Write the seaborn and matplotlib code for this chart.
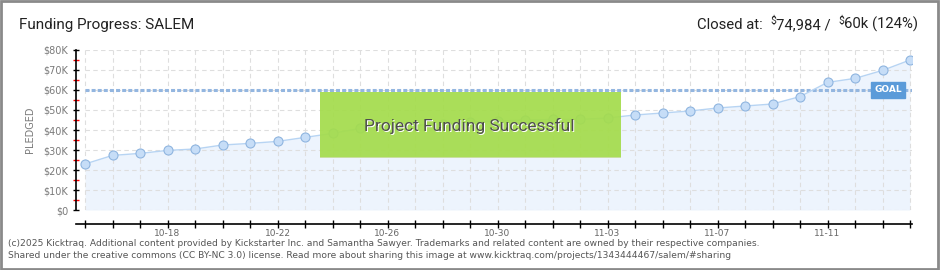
import matplotlib
matplotlib.use("Agg")
import matplotlib.pyplot as plt
import seaborn as sns
import pandas as pd
from matplotlib.patches import Rectangle
from matplotlib.ticker import FuncFormatter, MultipleLocator

# ---------------- data ----------------
dates = ["10-15", "10-16", "10-17", "10-18", "10-19", "10-20", "10-21", "10-22",
         "10-23", "10-24", "10-25", "10-26", "10-27", "10-28", "10-29", "10-30",
         "10-31", "11-01", "11-02", "11-03", "11-04", "11-05", "11-06", "11-07",
         "11-08", "11-09", "11-10", "11-11", "11-12", "11-13", "11-14"]
pledged = [23000, 27300, 28300, 29800, 30500, 32500, 33300, 34300,
           36300, 38300, 40800, 41600, 42400, 43200, 43900, 44500,
           45000, 45300, 45300, 46000, 47500, 48500, 49500, 51000,
           52000, 53000, 56700, 63800, 65800, 69800, 74984]
goal = 60000
tick_dates = ["10-18", "10-22", "10-26", "10-30", "11-03", "11-07", "11-11"]
y_ticks = [0, 10000, 20000, 30000, 40000, 50000, 60000, 70000, 80000]
title = "Funding Progress: SALEM"
closed_pieces = ["Closed at:  ", "$", "74,984 /  ", "$", "60k (124%)"]
banner = "Project Funding Successful"
goal_label = "GOAL"
y_label = "PLEDGED"
footer_lines = [
    "(c)2025 Kicktraq. Additional content provided by Kickstarter Inc. and Samantha Sawyer. "
    "Trademarks and related content are owned by their respective companies.",
    "Shared under the creative commons (CC BY-NC 3.0) license. Read more about sharing this "
    "image at www.kicktraq.com/projects/1343444467/salem/#sharing",
]

df = pd.DataFrame({"day": list(range(len(dates))), "date": dates, "pledged": pledged})

# ---------------- style ----------------
sns.set_theme(style="white")
plt.rcParams["font.family"] = ["DejaVu Sans"]
HEAD = ["Roboto", "DejaVu Sans"]

W, H = 940, 270
fig = plt.figure(figsize=(W / 100, H / 100), dpi=100)
fig.patch.set_facecolor("white")


def fx(px):
    return px / W


def fy(py):
    return 1 - py / H


ax = fig.add_axes([fx(76), fy(210), fx(912) - fx(76), fy(50) - fy(210)])
ax.set_facecolor("white")
n = len(dates)
xmax = (n - 1) + 2 / 27.5
ax.set_xlim(-9 / 27.5, xmax)
ax.set_ylim(0, 80000)

# fill under curve
ax.fill_between(df["day"], df["pledged"], color="#edf4fd", zorder=0.2, linewidth=0)

# grid (dashed)
ax.hlines(y_ticks, 0, xmax, colors="#dedede", linestyles=[(0, (4, 3))],
          linewidth=0.8, zorder=0.5)
ax.vlines(df["day"], 0, 80000, colors="#dedede", linestyles=[(0, (4, 3))],
          linewidth=0.8, zorder=0.5)

# goal line
ax.hlines(goal, 0, xmax, colors="#93b6e0", linestyles=[(0, (1.3, 0.7))],
          linewidth=2.2, zorder=1)

# pledged line
sns.lineplot(data=df, x="day", y="pledged", ax=ax, color="#b7d4f3", linewidth=1,
             marker="o", markersize=6.5, markerfacecolor="#c6ddf7",
             markeredgecolor="#8fb5e0", markeredgewidth=0.8, zorder=3)

ax.set_xlabel("")
ax.set_ylabel("")

# goal label
ax.text(29.2, goal, goal_label, ha="center", va="center", fontsize=6.5, color="white",
        fontweight="bold", zorder=6,
        bbox=dict(boxstyle="square,pad=0.35", facecolor="#5b9bd9", edgecolor="#5b9bd9"))

# spines
for s in ["top", "right"]:
    ax.spines[s].set_visible(False)
ax.spines["left"].set_color("black")
ax.spines["left"].set_linewidth(1.2)
ax.spines["bottom"].set_color("black")
ax.spines["bottom"].set_linewidth(1.2)
ax.spines["bottom"].set_position(("outward", 10))

# ticks
ax.set_yticks(y_ticks)
ax.yaxis.set_major_formatter(FuncFormatter(lambda v, p: f"${int(v / 1000)}K" if v else "$0"))
ax.yaxis.set_minor_locator(MultipleLocator(5000))
ax.tick_params(axis="y", which="major", left=True, direction="inout", length=5, width=1,
               color="black", labelsize=7, labelcolor="#7a7a7a", pad=3)
ax.tick_params(axis="y", which="minor", left=True, direction="inout", length=5, width=1,
               color="red")
ax.set_xticks(df["day"])
ax.set_xticklabels([d if d in tick_dates else "" for d in dates])
ax.tick_params(axis="x", which="major", bottom=True, direction="inout", length=6, width=1,
               color="black", labelsize=6.5, labelcolor="#666666", pad=0.5)

# y label
fig.text(fx(30), fy(130), y_label, rotation=90, ha="center", va="center",
         fontsize=7, color="#7a7a7a")

# title
fig.text(fx(19), fy(29), title, ha="left", va="baseline", fontsize=11, color="#222222",
         family=HEAD)

# right header with superscript dollar signs
renderer = fig.canvas.get_renderer()
texts = []
for piece in closed_pieces:
    small = piece == "$"
    t = fig.text(0, 0, piece, ha="left", va="baseline", fontsize=7.5 if small else 10.7,
                 color="#222222", family=HEAD)
    texts.append((t, small))
widths = [t.get_window_extent(renderer).width for t, _ in texts]
x = 918 - sum(widths)
for (t, small), w in zip(texts, widths):
    t.set_position((fx(x), fy(29 - (5 if small else 0))))
    x += w

# success banner
fig.patches.append(Rectangle((fx(320), fy(157)), fx(621) - fx(320), fy(92) - fy(157),
                             transform=fig.transFigure, facecolor="#a4dc4c", alpha=0.93,
                             edgecolor="none", zorder=5))
fig.patches.append(Rectangle((fx(320), fy(158)), fx(621) - fx(320), fy(157) - fy(158),
                             transform=fig.transFigure, facecolor="#c9dea0",
                             edgecolor="none", zorder=5))
fig.text(fx(469.8), fy(126.8), banner, ha="center", va="center", fontsize=12.5,
         color="white", family=HEAD, zorder=6)
fig.text(fx(469), fy(126), banner, ha="center", va="center", fontsize=12.5,
         color="#4e4e4e", family=HEAD, zorder=7)

# footer
fig.text(fx(8), fy(243), footer_lines[0], ha="left", va="center", fontsize=6.6, color="#555555")
fig.text(fx(8), fy(256), footer_lines[1], ha="left", va="center", fontsize=6.6, color="#555555")

# outer frame
fig.patches.append(Rectangle((0.001, 0.003), 0.997, 0.994, transform=fig.transFigure,
                             fill=False, edgecolor="#8a8a8a", linewidth=2, zorder=10))

fig.savefig("out.png", dpi=100, facecolor="white")
